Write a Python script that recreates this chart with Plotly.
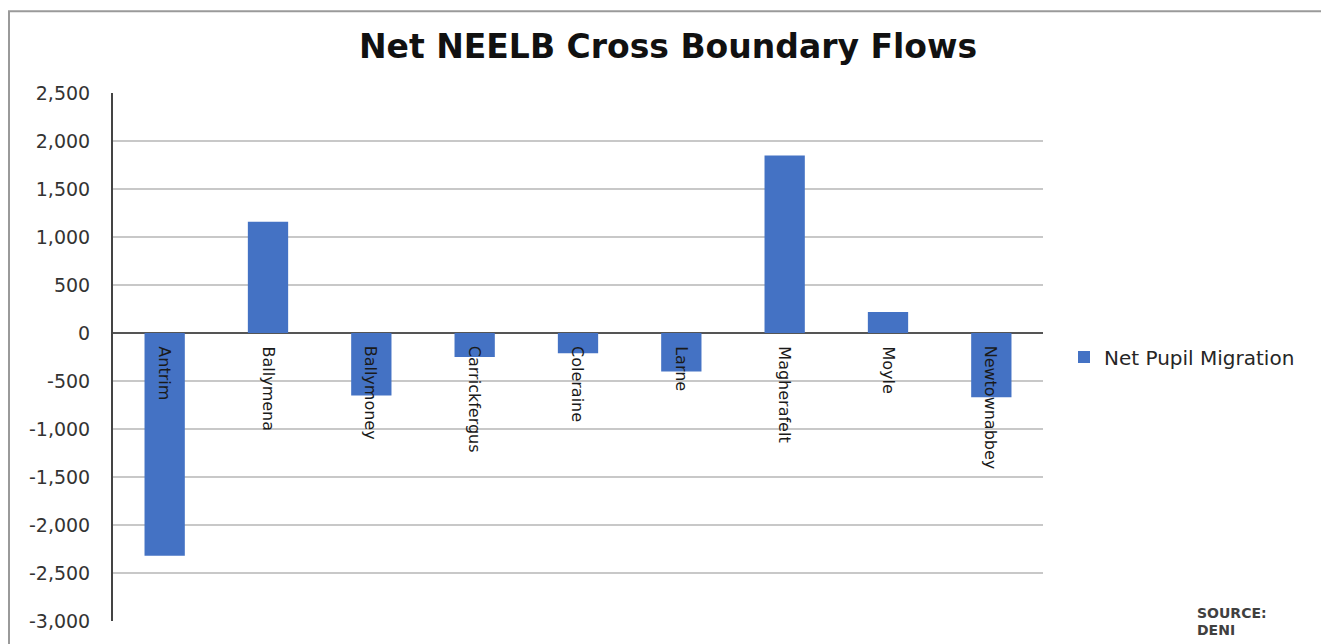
import plotly.graph_objects as go

categories = ["Antrim", "Ballymena", "Ballymoney", "Carrickfergus", "Coleraine",
              "Larne", "Magherafelt", "Moyle", "Newtownabbey"]
net_pupil_migration = [-2320, 1160, -650, -250, -210, -400, 1850, 220, -670]
y_ticks = [2500, 2000, 1500, 1000, 500, 0, -500, -1000, -1500, -2000, -2500, -3000]
y_tick_labels = ["2,500", "2,000", "1,500", "1,000", "500", "0", "-500", "-1,000",
                 "-1,500", "-2,000", "-2,500", "-3,000"]

OFF = 8  # page body margin
W, H = 1329 - OFF, 644 - OFF
L, T = 113 - OFF, 93 - OFF
R = W - (1043 - OFF)
B = H - (623 - OFF)
pw, ph = W - L - R, H - T - B


def px(xp):  # reference page x -> paper
    return (xp - OFF - L) / pw


def py(yp):  # reference page y -> paper
    return (H - B - (yp - OFF)) / ph


FONT = "DejaVu Sans, Open Sans, sans-serif"

fig = go.Figure()
fig.add_trace(go.Bar(
    x=categories, y=net_pupil_migration, name="Net Pupil Migration",
    marker=dict(color="#4472C4", line=dict(width=0)),
))

annotations = []
for c in categories:
    annotations.append(dict(
        x=c, y=0, xref="x", yref="y", text=c, showarrow=False,
        textangle=90, xanchor="center", yanchor="top", yshift=-11,
        font=dict(family=FONT, size=16, color="#1a1a1a"),
    ))
for txt, yy in [("SOURCE:", 615), ("DENI", 632)]:
    annotations.append(dict(
        x=px(1195), y=py(yy), xref="paper", yref="paper",
        text="<b>" + txt + "</b>", showarrow=False, xanchor="left", yanchor="middle",
        font=dict(family=FONT, size=14, color="#404040"),
    ))

fig.update_layout(
    width=W, height=H,
    margin=dict(l=L, r=R, t=T, b=B, pad=0),
    paper_bgcolor="white", plot_bgcolor="white",
    title=dict(text="<b>Net NEELB Cross Boundary Flows</b>", x=(668 - OFF) / W, xanchor="center",
               y=1 - (46 - OFF) / H, yanchor="middle",
               font=dict(family=FONT, size=33, color="#111111")),
    bargap=0.61,
    showlegend=True,
    legend=dict(x=px(1064), y=py(358), xanchor="left", yanchor="middle",
                font=dict(family=FONT, size=20, color="#262626"),
                itemwidth=30, bgcolor="rgba(0,0,0,0)"),
    xaxis=dict(showticklabels=False, showgrid=False, zeroline=False, showline=False,
               ticks=""),
    yaxis=dict(range=[-3000, 2500], tickvals=y_ticks, ticktext=y_tick_labels,
               showgrid=True, gridcolor="#c8c8c8", gridwidth=1.5,
               zeroline=True, zerolinecolor="#555555", zerolinewidth=2,
               showline=True, linecolor="#444444", linewidth=2,
               ticks="", ticklabelstandoff=17,
               tickfont=dict(family=FONT, size=19, color="#333333")),
    annotations=annotations,
    shapes=[dict(type="rect", xref="paper", yref="paper",
                 x0=px(9), x1=px(1327),
                 y0=py(680), y1=py(11),
                 line=dict(color="#9a9a9a", width=2), fillcolor="rgba(0,0,0,0)", layer="below")],
)

fig.write_html("out.html")
